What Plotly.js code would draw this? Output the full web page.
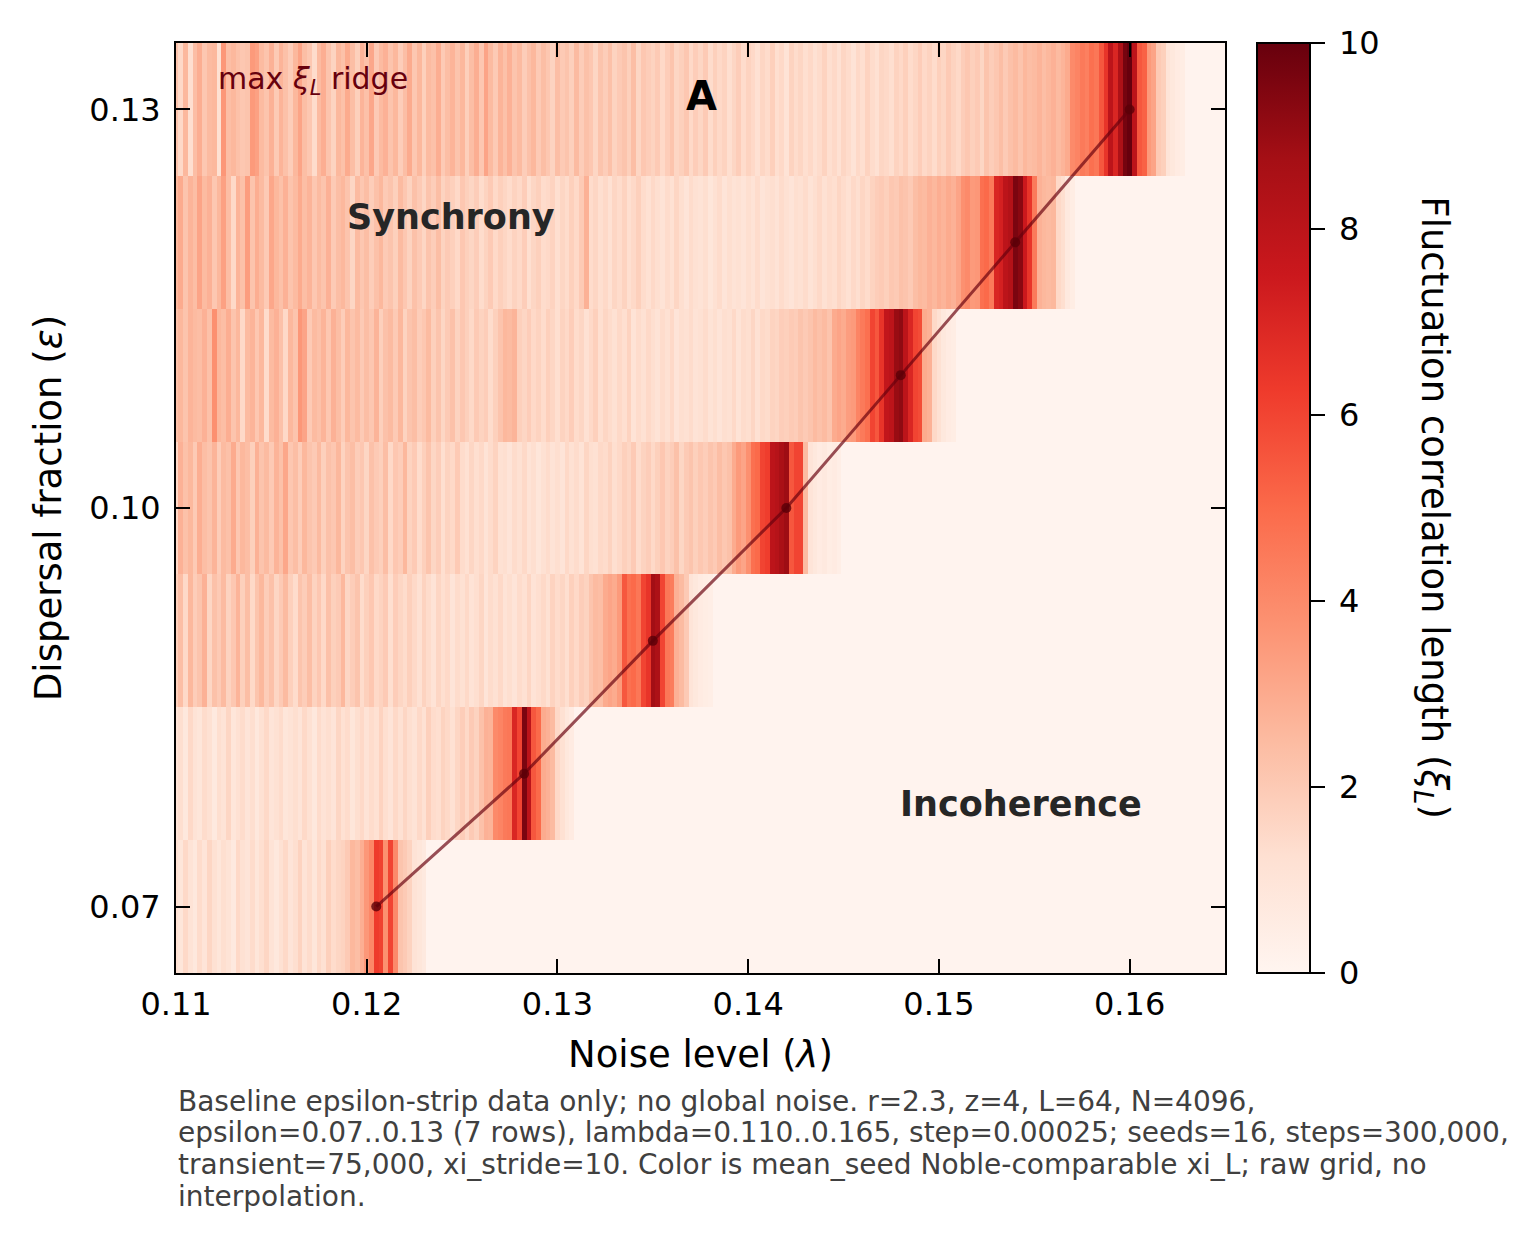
<!DOCTYPE html>
<html>
<head>
<meta charset="utf-8">
<script src="https://cdn.plot.ly/plotly-3.0.1.min.js"></script>
<style>
  html, body { margin: 0; padding: 0; background: #ffffff; }
  #chart { width: 1526px; height: 1244px; }
</style>
</head>
<body>
<div id="chart"></div>
<script>
// Noise grid (lambda) and dispersal rows (epsilon)
const LAMBDA_START = 0.110;
const LAMBDA_STEP = 0.00025;
const N_LAMBDA = 221;
const epsilonRows = [0.07, 0.08, 0.09, 0.10, 0.11, 0.12, 0.13];

// mean-seed xi_L per epsilon row, one value per lambda step (0.110 .. 0.165)
const xi_e07 = [
  1.2,0.9,1.5,1.1,0.8,1.4,1.0,1.6,1.2,0.9,
  1.3,1.1,0.7,1.5,1.2,1.0,1.4,0.9,1.3,1.6,
  1.1,0.8,1.2,1.5,1.0,1.3,1.7,1.1,1.4,0.9,
  1.5,1.2,1.8,1.4,1.6,1.7,2.0,2.6,2.4,2.9,
  3.6,4.1,6.3,6.1,3.8,6.0,4.0,2.2,2.0,1.7,
  1.1,0.9,0.7,0.1,0.1,0.1,0.1,0.1,0.1,0.1,
  0.1,0.1,0.1,0.1,0.1,0.1,0.1,0.1,0.1,0.1,
  0.1,0.1,0.1,0.1,0.1,0.1,0.1,0.1,0.1,0.1,
  0.1,0.1,0.1,0.1,0.1,0.1,0.1,0.1,0.1,0.1,
  0.1,0.1,0.1,0.1,0.1,0.1,0.1,0.1,0.1,0.1,
  0.1,0.1,0.1,0.1,0.1,0.1,0.1,0.1,0.1,0.1,
  0.1,0.1,0.1,0.1,0.1,0.1,0.1,0.1,0.1,0.1,
  0.1,0.1,0.1,0.1,0.1,0.1,0.1,0.1,0.1,0.1,
  0.1,0.1,0.1,0.1,0.1,0.1,0.1,0.1,0.1,0.1,
  0.1,0.1,0.1,0.1,0.1,0.1,0.1,0.1,0.1,0.1,
  0.1,0.1,0.1,0.1,0.1,0.1,0.1,0.1,0.1,0.1,
  0.1,0.1,0.1,0.1,0.1,0.1,0.1,0.1,0.1,0.1,
  0.1,0.1,0.1,0.1,0.1,0.1,0.1,0.1,0.1,0.1,
  0.1,0.1,0.1,0.1,0.1,0.1,0.1,0.1,0.1,0.1,
  0.1,0.1,0.1,0.1,0.1,0.1,0.1,0.1,0.1,0.1,
  0.1,0.1,0.1,0.1,0.1,0.1,0.1,0.1,0.1,0.1,
  0.1,0.1,0.1,0.1,0.1,0.1,0.1,0.1,0.1,0.1,
  0.1
];
const xi_e08 = [
  1.0,1.3,0.8,1.5,1.1,0.9,1.4,1.2,0.7,1.3,
  1.1,1.6,0.9,1.2,1.4,1.0,1.3,0.8,1.2,1.5,
  1.0,1.2,1.4,0.9,1.1,1.3,1.0,1.5,1.2,0.8,
  1.4,1.1,1.3,1.0,1.6,1.2,1.4,0.9,1.3,1.5,
  1.1,1.4,1.2,1.7,1.3,1.0,1.5,1.2,1.6,1.3,
  1.1,1.5,1.2,1.8,1.4,1.3,1.7,1.5,1.2,1.6,
  1.9,1.5,2.0,1.7,2.3,2.8,2.7,4.0,4.2,4.5,
  4.6,7.0,6.0,9.6,8.0,5.5,5.0,3.0,2.8,2.5,
  1.5,1.2,0.8,0.6,0.1,0.1,0.1,0.1,0.1,0.1,
  0.1,0.1,0.1,0.1,0.1,0.1,0.1,0.1,0.1,0.1,
  0.1,0.1,0.1,0.1,0.1,0.1,0.1,0.1,0.1,0.1,
  0.1,0.1,0.1,0.1,0.1,0.1,0.1,0.1,0.1,0.1,
  0.1,0.1,0.1,0.1,0.1,0.1,0.1,0.1,0.1,0.1,
  0.1,0.1,0.1,0.1,0.1,0.1,0.1,0.1,0.1,0.1,
  0.1,0.1,0.1,0.1,0.1,0.1,0.1,0.1,0.1,0.1,
  0.1,0.1,0.1,0.1,0.1,0.1,0.1,0.1,0.1,0.1,
  0.1,0.1,0.1,0.1,0.1,0.1,0.1,0.1,0.1,0.1,
  0.1,0.1,0.1,0.1,0.1,0.1,0.1,0.1,0.1,0.1,
  0.1,0.1,0.1,0.1,0.1,0.1,0.1,0.1,0.1,0.1,
  0.1,0.1,0.1,0.1,0.1,0.1,0.1,0.1,0.1,0.1,
  0.1,0.1,0.1,0.1,0.1,0.1,0.1,0.1,0.1,0.1,
  0.1,0.1,0.1,0.1,0.1,0.1,0.1,0.1,0.1,0.1,
  0.1
];
const xi_e09 = [
  1.8,2.4,1.5,2.6,1.9,2.2,2.8,1.6,2.3,2.0,
  2.5,1.7,2.1,2.7,1.8,2.4,1.5,2.2,2.6,1.9,
  2.3,1.6,2.0,2.5,1.8,1.4,2.2,1.9,2.4,1.7,
  2.1,1.5,2.3,1.8,2.0,2.6,1.6,1.9,2.2,1.4,
  1.8,2.1,1.5,1.7,2.0,1.3,1.9,1.6,1.4,1.8,
  1.5,1.2,1.7,1.4,1.1,1.6,1.3,1.5,1.0,1.4,
  1.2,1.5,1.1,1.3,1.6,1.0,1.4,1.2,1.5,1.1,
  1.3,1.0,1.4,1.2,1.6,1.1,1.3,1.5,1.2,1.7,
  1.4,1.6,1.3,1.8,1.5,1.9,1.7,2.2,2.5,2.4,
  3.0,3.2,3.0,3.5,5.5,4.8,5.0,4.6,6.0,6.5,
  8.8,8.5,6.0,4.6,4.4,2.8,2.5,2.0,1.0,0.8,
  0.6,0.5,0.4,0.1,0.1,0.1,0.1,0.1,0.1,0.1,
  0.1,0.1,0.1,0.1,0.1,0.1,0.1,0.1,0.1,0.1,
  0.1,0.1,0.1,0.1,0.1,0.1,0.1,0.1,0.1,0.1,
  0.1,0.1,0.1,0.1,0.1,0.1,0.1,0.1,0.1,0.1,
  0.1,0.1,0.1,0.1,0.1,0.1,0.1,0.1,0.1,0.1,
  0.1,0.1,0.1,0.1,0.1,0.1,0.1,0.1,0.1,0.1,
  0.1,0.1,0.1,0.1,0.1,0.1,0.1,0.1,0.1,0.1,
  0.1,0.1,0.1,0.1,0.1,0.1,0.1,0.1,0.1,0.1,
  0.1,0.1,0.1,0.1,0.1,0.1,0.1,0.1,0.1,0.1,
  0.1,0.1,0.1,0.1,0.1,0.1,0.1,0.1,0.1,0.1,
  0.1,0.1,0.1,0.1,0.1,0.1,0.1,0.1,0.1,0.1,
  0.1
];
const xi_e10 = [
  1.5,2.8,2.3,2.6,2.0,2.9,2.4,2.2,2.7,1.9,
  2.5,2.3,3.0,2.1,2.6,2.4,1.8,2.8,2.2,2.5,
  2.0,2.7,2.3,3.1,2.1,2.4,1.9,2.6,2.2,2.0,
  2.5,1.8,2.3,2.1,2.6,1.7,2.2,2.4,1.9,2.1,
  1.6,2.3,2.0,1.8,2.4,1.5,2.1,1.9,2.6,1.7,
  2.0,1.4,1.8,2.2,1.6,1.9,1.3,1.7,1.5,2.0,
  1.4,1.2,1.6,1.3,1.5,1.1,1.4,1.7,1.2,1.3,
  1.0,1.4,1.2,1.5,1.1,1.3,0.9,1.2,1.4,1.1,
  1.3,1.0,1.5,1.2,1.4,1.1,1.6,1.3,1.2,1.5,
  1.4,1.7,1.3,1.5,1.8,1.6,2.0,1.4,1.7,1.9,
  1.5,1.8,2.1,1.7,1.9,2.3,1.6,2.0,2.2,1.8,
  2.1,1.9,2.2,2.0,2.4,2.1,2.3,3.0,3.5,3.2,
  3.8,4.8,5.0,6.0,6.2,8.0,8.2,8.6,8.9,5.5,
  6.0,6.0,2.5,1.0,0.8,0.6,0.7,0.5,0.6,0.4,
  0.1,0.1,0.1,0.1,0.1,0.1,0.1,0.1,0.1,0.1,
  0.1,0.1,0.1,0.1,0.1,0.1,0.1,0.1,0.1,0.1,
  0.1,0.1,0.1,0.1,0.1,0.1,0.1,0.1,0.1,0.1,
  0.1,0.1,0.1,0.1,0.1,0.1,0.1,0.1,0.1,0.1,
  0.1,0.1,0.1,0.1,0.1,0.1,0.1,0.1,0.1,0.1,
  0.1,0.1,0.1,0.1,0.1,0.1,0.1,0.1,0.1,0.1,
  0.1,0.1,0.1,0.1,0.1,0.1,0.1,0.1,0.1,0.1,
  0.1,0.1,0.1,0.1,0.1,0.1,0.1,0.1,0.1,0.1,
  0.1
];
const xi_e11 = [
  2.3,2.6,2.2,2.7,2.5,2.4,2.8,2.3,3.8,2.6,
  2.4,2.9,2.2,2.6,1.5,2.5,2.7,2.1,2.6,1.4,
  2.5,2.8,2.3,1.5,2.6,2.2,3.6,3.2,2.0,2.5,
  2.3,2.7,2.1,2.8,2.4,1.9,2.6,2.2,2.5,2.0,
  2.4,2.1,2.7,1.8,2.3,2.5,2.0,2.6,1.7,2.2,
  2.4,1.9,2.1,2.5,1.8,2.2,1.6,2.0,2.3,1.7,
  2.1,1.8,1.5,2.0,1.7,1.9,1.4,1.8,2.2,2.6,
  2.5,2.7,1.8,1.6,1.9,1.5,1.7,1.4,1.8,1.6,
  1.3,1.7,1.5,1.9,1.4,1.6,1.2,1.5,1.8,1.3,
  1.6,1.4,1.2,1.5,1.3,1.7,1.1,1.4,1.2,1.5,
  1.3,1.1,1.4,1.2,1.5,1.0,1.3,1.2,1.4,1.1,
  1.2,1.4,1.1,1.3,1.0,1.3,1.2,1.5,1.1,1.4,
  1.3,1.6,1.2,1.5,1.4,1.7,1.6,1.9,1.8,2.0,
  1.9,2.2,2.0,2.2,2.5,2.3,2.5,2.2,3.0,3.2,
  3.0,3.4,3.5,4.2,4.5,4.8,6.0,5.5,6.5,7.8,
  8.0,9.0,9.2,8.0,7.0,6.0,5.8,3.0,2.8,1.5,
  1.2,0.8,0.6,0.5,0.1,0.1,0.1,0.1,0.1,0.1,
  0.1,0.1,0.1,0.1,0.1,0.1,0.1,0.1,0.1,0.1,
  0.1,0.1,0.1,0.1,0.1,0.1,0.1,0.1,0.1,0.1,
  0.1,0.1,0.1,0.1,0.1,0.1,0.1,0.1,0.1,0.1,
  0.1,0.1,0.1,0.1,0.1,0.1,0.1,0.1,0.1,0.1,
  0.1,0.1,0.1,0.1,0.1,0.1,0.1,0.1,0.1,0.1,
  0.1
];
const xi_e12 = [
  2.6,3.0,2.2,2.7,2.4,3.2,2.5,2.8,2.1,2.6,
  3.3,2.4,1.5,2.7,2.3,3.4,2.2,2.9,2.5,2.0,
  3.1,2.6,2.3,2.8,2.2,2.5,3.0,2.4,2.7,2.1,
  2.5,2.2,2.8,2.0,2.4,2.6,2.2,1.6,2.5,2.1,
  2.4,1.9,2.3,2.6,2.0,2.2,1.8,2.5,2.1,1.7,
  2.3,2.0,1.6,2.2,1.9,2.4,1.7,2.0,1.8,1.5,
  2.1,1.8,1.6,1.9,1.4,1.7,2.0,1.5,1.8,1.6,
  1.4,1.7,1.5,1.9,1.3,1.6,1.8,1.4,1.5,1.7,
  1.3,1.6,1.4,1.8,1.5,2.0,2.8,1.4,1.6,1.3,
  1.5,1.2,1.6,1.4,1.7,1.3,1.5,1.8,1.4,1.2,
  1.5,1.3,1.1,1.4,1.2,1.6,1.3,1.0,1.4,1.2,
  1.1,1.3,0.9,1.2,1.4,1.0,1.3,1.1,1.2,1.0,
  1.3,1.1,1.4,1.0,1.2,1.3,1.1,1.4,1.2,1.0,
  1.3,1.2,1.4,1.1,1.3,1.5,1.2,1.4,1.3,1.6,
  1.4,1.2,1.5,1.3,1.6,1.4,1.7,1.9,2.0,1.8,
  2.1,2.0,2.3,2.2,2.0,2.4,2.6,2.5,2.8,2.6,
  2.9,2.7,3.0,2.8,3.2,3.8,4.0,3.5,3.6,4.8,
  5.0,4.5,7.0,7.2,8.0,8.3,9.6,9.3,7.5,6.5,
  4.5,2.8,2.6,2.5,2.6,1.5,1.3,0.7,0.5,0.1,
  0.1,0.1,0.1,0.1,0.1,0.1,0.1,0.1,0.1,0.1,
  0.1,0.1,0.1,0.1,0.1,0.1,0.1,0.1,0.1,0.1,
  0.1,0.1,0.1,0.1,0.1,0.1,0.1,0.1,0.1,0.1,
  0.1
];
const xi_e13 = [
  2.2,1.5,2.6,1.3,2.4,2.9,2.1,2.5,2.6,1.2,
  3.6,2.4,2.6,2.3,2.1,2.2,3.5,3.3,2.5,2.2,
  2.8,2.0,2.7,2.3,1.9,2.6,3.2,2.4,2.1,1.4,
  2.5,2.9,2.2,1.7,2.6,2.3,3.0,2.4,1.8,2.7,
  2.3,3.1,2.0,2.5,2.8,2.2,2.6,1.9,2.4,3.0,
  2.1,2.6,1.8,2.5,2.3,2.9,2.0,2.4,2.7,2.2,
  2.6,1.8,2.4,2.9,2.1,3.2,2.5,2.0,2.7,2.3,
  2.8,2.2,2.5,1.9,2.3,2.6,2.0,2.4,2.1,1.7,
  2.4,2.0,2.2,1.8,2.5,1.9,2.3,2.1,1.6,2.2,
  1.9,2.3,1.7,2.0,2.2,1.8,2.4,1.6,2.1,1.9,
  1.7,2.0,1.5,1.9,2.2,1.6,1.8,2.1,1.5,1.9,
  1.6,2.0,1.4,1.8,1.5,1.7,1.3,1.6,1.9,1.4,
  1.7,1.5,1.2,1.6,1.4,1.8,1.3,1.5,1.1,1.7,
  1.4,1.6,1.3,1.5,1.2,1.4,1.7,1.3,1.5,1.2,
  1.6,1.4,1.1,1.5,1.3,1.7,1.4,1.2,1.6,1.5,
  1.3,1.7,1.5,1.8,1.4,1.6,1.9,1.5,1.7,1.4,
  1.8,1.6,2.0,1.7,1.5,1.9,2.1,1.8,2.0,1.6,
  2.2,1.9,2.1,2.4,2.0,2.3,2.5,2.2,2.6,2.4,
  2.5,2.7,2.4,2.6,2.8,2.5,2.7,3.0,4.0,4.2,
  4.5,4.3,4.8,4.6,5.5,6.5,8.0,7.0,8.5,9.7,
  10.0,8.0,5.5,5.2,3.5,3.2,2.0,1.8,1.0,0.8,
  0.6,0.5,0.1,0.1,0.1,0.1,0.1,0.1,0.1,0.1,
  0.1
];

const xiRows = [xi_e07, xi_e08, xi_e09, xi_e10, xi_e11, xi_e12, xi_e13];

const xTickVals = [0.11, 0.12, 0.13, 0.14, 0.15, 0.16];
const xTickText = ['0.11', '0.12', '0.13', '0.14', '0.15', '0.16'];
const yTickVals = [0.07, 0.10, 0.13];
const yTickText = ['0.07', '0.10', '0.13'];
const cbarTicks = [0, 2, 4, 6, 8, 10];

const captionLines = [
  'Baseline epsilon-strip data only; no global noise. r=2.3, z=4, L=64, N=4096,',
  'epsilon=0.07..0.13 (7 rows), lambda=0.110..0.165, step=0.00025; seeds=16, steps=300,000,',
  'transient=75,000, xi_stride=10. Color is mean_seed Noble-comparable xi_L; raw grid, no',
  'interpolation.'
];

// lambda axis of the grid
const lambdaGrid = [];
for (let i = 0; i < N_LAMBDA; i++) {
  lambdaGrid.push(+(LAMBDA_START + i * LAMBDA_STEP).toFixed(5));
}

// ridge: lambda of the largest xi_L in each epsilon row
const ridgeLambda = xiRows.map(row => {
  let best = 0;
  for (let i = 1; i < row.length; i++) if (row[i] > row[best]) best = i;
  return lambdaGrid[best];
});

const redsScale = [
  [0.0, '#fff5f0'], [0.125, '#fee0d2'], [0.25, '#fcbba1'],
  [0.375, '#fc9272'], [0.5, '#fb6a4a'], [0.625, '#ef3b2c'],
  [0.75, '#cb181d'], [0.875, '#a50f15'], [1.0, '#67000d']
];

const FONT = 'DejaVu Sans, Liberation Sans, sans-serif';
const PAD = '\u2005';   // small gap between colorbar ticks and their labels

const heat = {
  type: 'heatmap',
  x: lambdaGrid,
  y: epsilonRows,
  z: xiRows,
  zmin: 0,
  zmax: 10,
  zsmooth: false,
  colorscale: redsScale,
  hoverinfo: 'skip',
  colorbar: {
    x: 1.0305, xanchor: 'left', xpad: 0,
    y: 0.5, yanchor: 'middle', ypad: 0,
    len: 1, lenmode: 'fraction',
    thickness: 53, thicknessmode: 'pixels',
    outlinewidth: 2, outlinecolor: '#000000',
    ticks: 'outside', ticklen: 14, tickwidth: 2, tickcolor: '#000000',
    tickvals: cbarTicks,
    ticktext: cbarTicks.map(v => PAD + String(v)),
    tickfont: { family: FONT, size: 32, color: '#000000' }
  }
};

const ridge = {
  type: 'scatter',
  mode: 'lines+markers',
  x: ridgeLambda,
  y: epsilonRows,
  line: { color: 'rgba(103,0,13,0.68)', width: 3 },
  marker: { color: 'rgba(90,0,8,0.8)', size: 10 },
  hoverinfo: 'skip',
  showlegend: false
};

// caption lines, one annotation per line for tight line spacing
const captionAnnotations = captionLines.map((line, k) => ({
  xref: 'paper', yref: 'paper',
  x: 0, y: (973 - (1101 + k * 31.7)) / 930,
  xanchor: 'left', yanchor: 'middle', align: 'left', showarrow: false,
  text: line,
  font: { family: FONT, size: 28, color: '#404040' }
}));

const layout = {
  width: 1526,
  height: 1244,
  margin: { l: 176, r: 301, t: 43, b: 271, pad: 0 },
  paper_bgcolor: '#ffffff',
  plot_bgcolor: '#fff5f0',
  font: { family: FONT, color: '#000000' },
  showlegend: false,
  xaxis: {
    range: [0.11, 0.165],
    tickvals: xTickVals,
    ticktext: xTickText,
    ticks: 'inside', ticklen: 14, tickwidth: 2, tickcolor: '#000000',
    showline: true, linecolor: '#000000', linewidth: 2, mirror: 'ticks',
    showgrid: false, zeroline: false,
    tickfont: { family: FONT, size: 32, color: '#000000' },
    ticklabelstandoff: 2,
    title: { text: 'Noise level (<i>λ</i>)', font: { family: FONT, size: 37, color: '#000000' }, standoff: 19 }
  },
  yaxis: {
    range: [0.065, 0.135],
    tickvals: yTickVals,
    ticktext: yTickText,
    ticks: 'inside', ticklen: 14, tickwidth: 2, tickcolor: '#000000',
    showline: true, linecolor: '#000000', linewidth: 2, mirror: 'ticks',
    showgrid: false, zeroline: false,
    tickfont: { family: FONT, size: 32, color: '#000000' },
    ticklabelstandoff: 7,
    title: { text: 'Dispersal fraction (<i>ε</i>)', font: { family: FONT, size: 37, color: '#000000' }, standoff: 16 }
  },
  annotations: [
    {
      xref: 'paper', yref: 'paper', x: 0.038, y: 0.960,
      xanchor: 'left', yanchor: 'middle', showarrow: false,
      text: 'max <i>ξ</i><sub><i>L</i></sub> ridge',
      font: { family: FONT, size: 30, color: '#67000d' }
    },
    {
      xref: 'paper', yref: 'paper', x: 0.501, y: 0.943,
      xanchor: 'center', yanchor: 'middle', showarrow: false,
      text: '<b>A</b>',
      font: { family: FONT, size: 40, color: '#000000' }
    },
    {
      xref: 'x', yref: 'y', x: 0.1244, y: 0.1219,
      xanchor: 'center', yanchor: 'middle', showarrow: false,
      text: '<b>Synchrony</b>',
      font: { family: FONT, size: 35, color: '#262626' }
    },
    {
      xref: 'x', yref: 'y', x: 0.1543, y: 0.0777,
      xanchor: 'center', yanchor: 'middle', showarrow: false,
      text: '<b>Incoherence</b>',
      font: { family: FONT, size: 35, color: '#262626' }
    },
    {
      xref: 'paper', yref: 'paper', x: 1.197, y: 0.5,
      xanchor: 'center', yanchor: 'middle', showarrow: false,
      textangle: 90,
      text: 'Fluctuation correlation length (<i>ξ</i><sub><i>L</i></sub>)',
      font: { family: FONT, size: 37, color: '#000000' }
    }
  ].concat(captionAnnotations)
};

Plotly.newPlot('chart', [heat, ridge], layout, { staticPlot: true, displayModeBar: false });
</script>
</body>
</html>
